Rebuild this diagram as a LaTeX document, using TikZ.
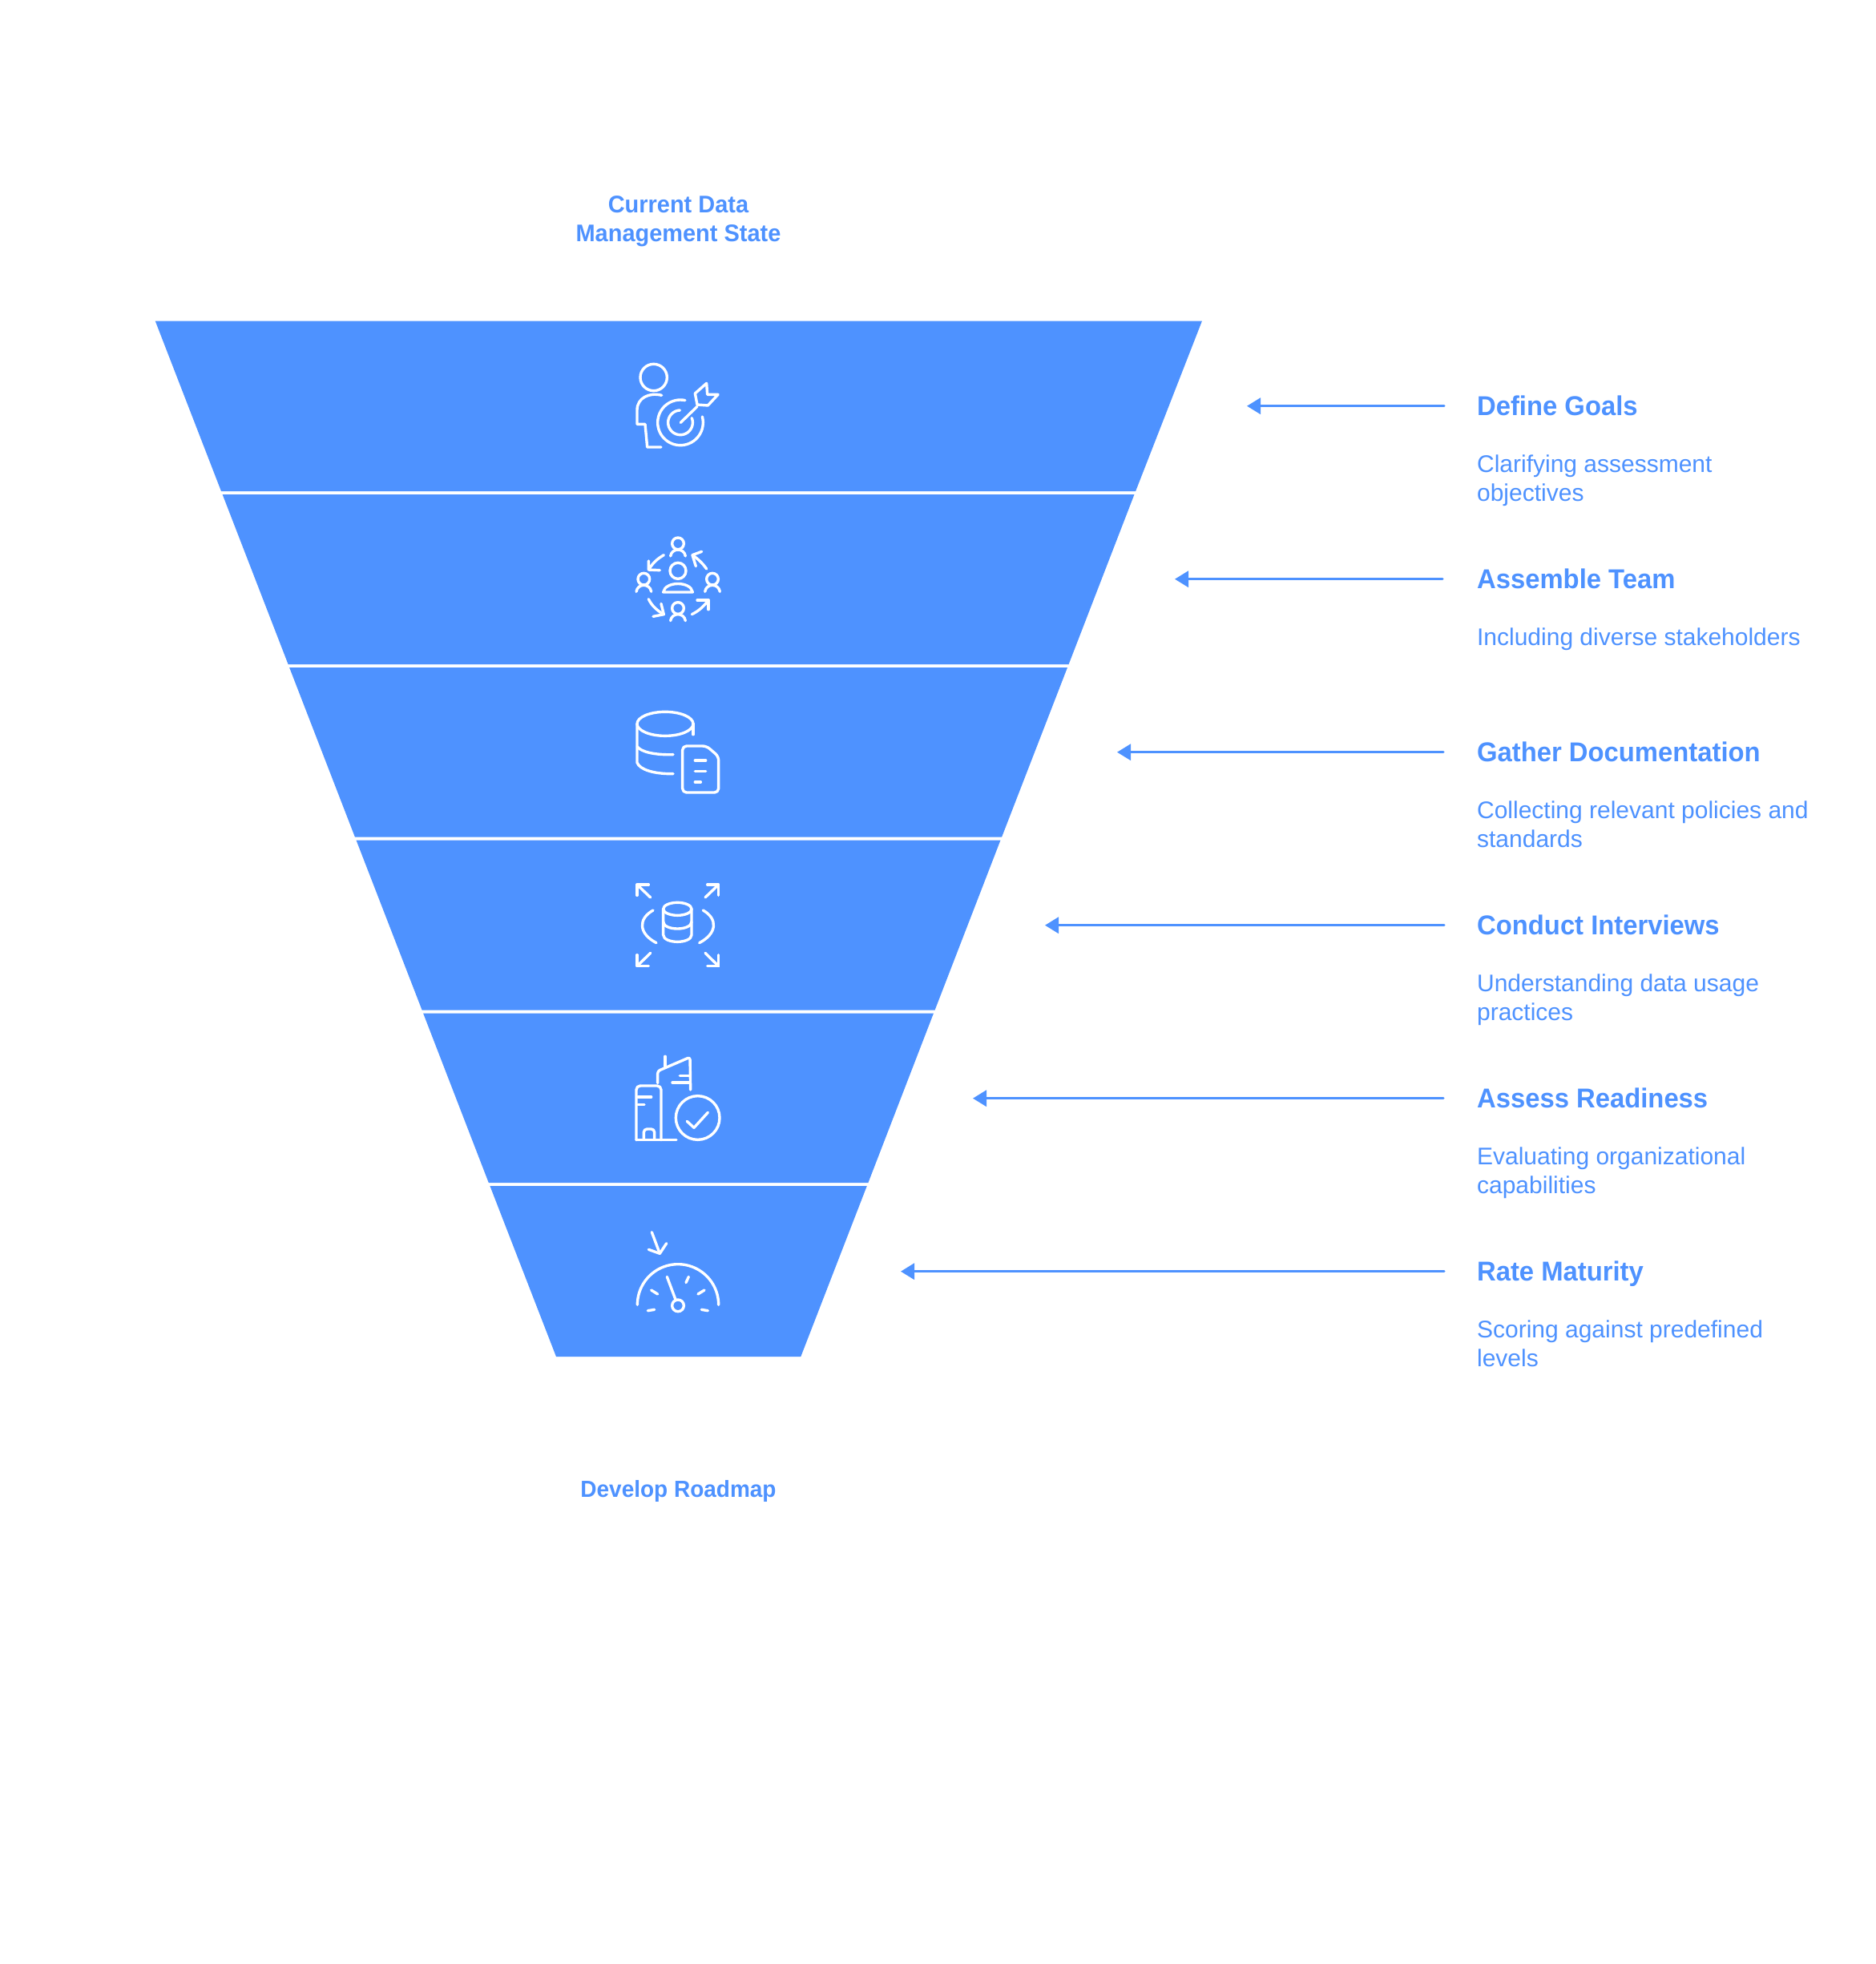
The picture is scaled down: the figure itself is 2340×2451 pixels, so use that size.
\documentclass[tikz,border=0pt]{standalone}
\usepackage{fontspec}
\setmainfont{Liberation Sans}
\newfontfamily\hbold[FakeStretch=0.965]{Liberation Sans Bold}
\usetikzlibrary{arrows.meta}
\definecolor{fblue}{HTML}{4E92FF}
\tikzset{
  band/.style={fill=fblue,draw=none},
  icon/.style={draw=white,line width=1.7pt,line cap=round,line join=round},
  conn/.style={draw=fblue,line width=1.6pt,line cap=round,-{Triangle[length=8.5pt,width=10pt]}},
  headtext/.style={anchor=base west,inner sep=0pt,text=fblue,font=\hbold\fontsize{17pt}{18pt}\selectfont},
  bodytext/.style={anchor=base west,inner sep=0pt,text=fblue,align=left,font=\fontsize{15pt}{18pt}\selectfont},
  endtext/.style={anchor=base,inner sep=0pt,text=fblue,align=center,font=\hbold\fontsize{15pt}{18pt}\selectfont},
  zoomed/.style={x=0.16667pt,y=-0.16667pt}
}
\newcommand{\iarc}[5]{plot[domain=#4:#5,samples=48] ({#1+#3*cos(\x)},{#2+#3*sin(\x)})}
\begin{document}
\begin{tikzpicture}[x=0.5pt,y=-0.5pt]
\useasboundingbox (0,0) rectangle (2340,2451);
\fill[white] (0,0) rectangle (2340,2451);
% funnel
\path[band,fill] (193.7,400.5) -- (1500,400.5) -- (1417.1,613) -- (276,613) -- cycle;
\path[band,fill] (277.6,617) -- (1415.5,617) -- (1333.6,829) -- (359.6,829) -- cycle;
\path[band,fill] (361.1,833) -- (1332,833) -- (1250.1,1044.5) -- (442.9,1044.5) -- cycle;
\path[band,fill] (444.5,1048.5) -- (1248.5,1048.5) -- (1166.6,1260.5) -- (526.6,1260.5) -- cycle;
\path[band,fill] (528.1,1264.5) -- (1165,1264.5) -- (1083.4,1476) -- (609.8,1476) -- cycle;
\path[band,fill] (611.4,1480) -- (1081.8,1480) -- (999.3,1693) -- (694,1693) -- cycle;
% top/bottom
\node[endtext] (top) at (846.5,301) {Current Data\\Management State};
\node[endtext,font=\hbold\fontsize{14.5pt}{18pt}\selectfont] (bottom) at (846.5,1868) {Develop Roadmap};
% labels (a two-line node's base is its last line)
\node[headtext] (h1) at (1842.7,518.7) {Define Goals};
\node[bodytext] (b1) at (1842.7,625.7) {Clarifying assessment\\objectives};
\node[headtext] (h2) at (1842.7,734.7) {Assemble Team};
\node[bodytext] (b2) at (1842.7,805.7) {Including diverse stakeholders};
\node[headtext] (h3) at (1842.7,950.7) {Gather Documentation};
\node[bodytext] (b3) at (1842.7,1057.7) {Collecting relevant policies and\\standards};
\node[headtext] (h4) at (1842.7,1166.7) {Conduct Interviews};
\node[bodytext] (b4) at (1842.7,1273.7) {Understanding data usage\\practices};
\node[headtext] (h5) at (1842.7,1382.7) {Assess Readiness};
\node[bodytext] (b5) at (1842.7,1489.7) {Evaluating organizational\\capabilities};
\node[headtext] (h6) at (1842.7,1598.7) {Rate Maturity};
\node[bodytext] (b6) at (1842.7,1705.7) {Scoring against predefined\\levels};
% connectors
\coordinate (s1) at (1802,506.7); \coordinate (e1) at (1556,506.7);
\coordinate (s2) at (1800,722.7); \coordinate (e2) at (1466,722.7);
\coordinate (s3) at (1801,938.7); \coordinate (e3) at (1394,938.7);
\coordinate (s4) at (1802,1154.7); \coordinate (e4) at (1304,1154.7);
\coordinate (s5) at (1801,1370.7); \coordinate (e5) at (1214,1370.7);
\coordinate (s6) at (1802,1586.7); \coordinate (e6) at (1124,1586.7);
\draw[conn] (s1) -- (e1);
\draw[conn] (s2) -- (e2);
\draw[conn] (s3) -- (e3);
\draw[conn] (s4) -- (e4);
\draw[conn] (s5) -- (e5);
\draw[conn] (s6) -- (e6);
% icon 1
\begin{scope}[shift={(760,430)},zoomed]
\draw[icon] (167,123) circle[radius=50];
\draw[icon] (197,190) .. controls (150,178) and (105,200) .. (105,245) -- (105,298) -- (135,298) -- (143,384) -- (195,384);
\draw[icon] \iarc{267}{292}{85}{-78}{-375};
\draw[icon] \iarc{267}{292}{46}{-92}{-382};
\draw[icon] (268,292) -- (330,232);
\draw[icon] (322,183) -- (365,145) -- (368,187) -- (408,187) -- (370,228) -- (330,225) -- cycle;
\end{scope}
% icon 2
\begin{scope}[shift={(760,650)},zoomed]
\foreach \cx/\cy in {258/85,130/218,387/218,258/327}{
  \draw[icon] (\cx,\cy) circle[radius=22];
  \draw[icon] (\cx-28,\cy+47) .. controls (\cx-23,\cy+15) and (\cx+23,\cy+15) .. (\cx+28,\cy+47);
}
\draw[icon] (258,187) circle[radius=30];
\draw[icon] (203,267) -- (313,267) .. controls (306,225) and (210,225) .. (203,267) -- cycle;
\draw[icon] (205,128) .. controls (180,142) and (162,160) .. (148,183);
\draw[icon] (148,150) -- (148,183) -- (190,185);
\draw[icon] (365,180) .. controls (350,158) and (332,142) .. (312,128);
\draw[icon] (347,115) -- (312,128) -- (325,170);
\draw[icon] (148,293) .. controls (160,318) and (180,336) .. (205,350);
\draw[icon] (165,358) -- (205,350) -- (195,310);
\draw[icon] (310,350) .. controls (335,338) and (355,320) .. (372,297);
\draw[icon] (330,297) -- (372,297) -- (372,332);
\end{scope}
% icon 3
\begin{scope}[shift={(760,870)},zoomed]
\draw[icon] (210,100) circle[x radius=105,y radius=45];
\draw[icon] (105,100) -- (105,245) .. controls (115,272) and (170,288) .. (240,287);
\draw[icon] (105,185) .. controls (120,205) and (170,217) .. (240,215);
\draw[icon] (315,100) -- (315,140);
\draw[icon,rounded corners=2.5pt] (275,183) -- (365,183) -- (410,222) -- (410,357) -- (275,357) -- cycle;
\draw[icon] (322,237) -- (362,237);
\draw[icon] (322,277) -- (362,277);
\draw[icon] (322,318) -- (343,318);
\end{scope}
% icon 4
\begin{scope}[shift={(770,1085)},zoomed]
\draw[icon] (125,105) -- (75,57);
\draw[icon] (75,97) -- (75,57) -- (118,57);
\draw[icon] (330,105) -- (380,57);
\draw[icon] (338,57) -- (380,57) -- (380,97);
\draw[icon] (125,313) -- (75,362);
\draw[icon] (75,320) -- (75,362) -- (118,362);
\draw[icon] (330,313) -- (380,362);
\draw[icon] (338,362) -- (380,362) -- (380,320);
\draw[icon] (135,153) .. controls (78,185) and (80,240) .. (147,275);
\draw[icon] (322,153) .. controls (378,185) and (375,240) .. (308,275);
\draw[icon] (226,148) circle[x radius=53,y radius=24];
\draw[icon] (173,148) -- (173,245) .. controls (173,262) and (200,271) .. (226,271) .. controls (252,271) and (279,262) .. (279,245) -- (279,148);
\draw[icon] (173,196) .. controls (173,213) and (200,222) .. (226,222) .. controls (252,222) and (279,213) .. (279,196);
\end{scope}
% icon 5
\begin{scope}[shift={(770,1300)},zoomed]
\draw[icon,rounded corners=2.5pt] (165,368) -- (165,165) -- (72,165) -- (72,368);
\draw[icon] (72,368) -- (222,368);
\draw[icon] (78,207) -- (128,207);
\draw[icon] (78,235) -- (102,235);
\draw[icon,rounded corners=2pt] (100,365) -- (100,327) -- (140,327) -- (140,365);
\draw[icon,rounded corners=1.5pt] (152,155) -- (152,110) -- (273,58) -- (275,180);
\draw[icon] (180,55) -- (180,95);
\draw[icon] (235,127) -- (272,127);
\draw[icon] (207,153) -- (272,153);
\draw[icon] (302,285) circle[radius=82];
\draw[icon] (262,298) -- (288,322) -- (340,265);
\end{scope}
% icon 6
\begin{scope}[shift={(770,1520)},zoomed]
\draw[icon] (130,53) -- (160,133);
\draw[icon] (118,118) -- (160,133) -- (185,95);
\draw[icon] \iarc{228}{325}{152}{180}{360};
\draw[icon] (187,220) -- (220,308);
\draw[icon] (228,328) circle[radius=22];
\draw[icon] (128,270) -- (152,285);
\draw[icon] (268,220) -- (258,242);
\draw[icon] (327,270) -- (303,285);
\draw[icon] (115,347) -- (140,343);
\draw[icon] (340,347) -- (316,343);
\end{scope}
\end{tikzpicture}
\end{document}
